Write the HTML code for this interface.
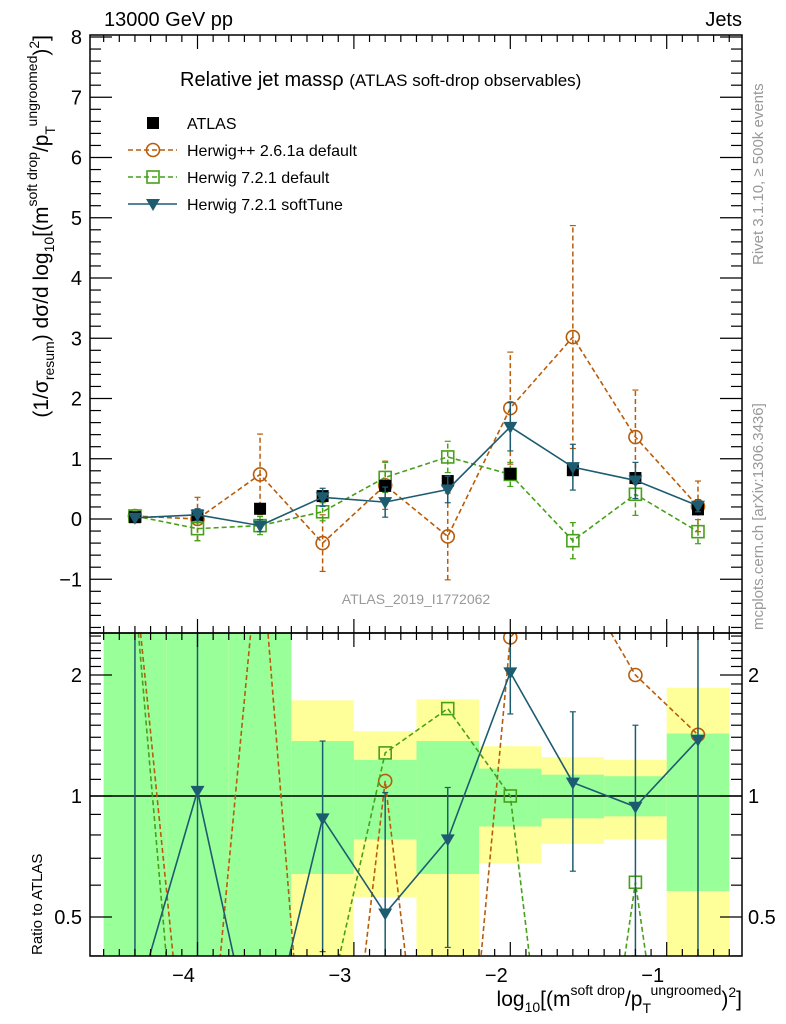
<!DOCTYPE html>
<html><head><meta charset="utf-8"><style>
html,body{margin:0;padding:0;background:#fff;overflow:hidden;width:786px;height:1024px;}
svg{display:block;font-family:"Liberation Sans",sans-serif;}
</style></head><body>
<svg id="s" width="786" height="1024" xmlns="http://www.w3.org/2000/svg">
<defs>
<clipPath id="cm"><rect x="90" y="35" width="652" height="598"/></clipPath>
<clipPath id="cr"><rect x="90" y="633" width="652" height="323"/></clipPath>
</defs>
<g id="bands" clip-path="url(#cr)"></g>
<g id="ratio" clip-path="url(#cr)"></g>
<g id="main" clip-path="url(#cm)"></g>
<g id="axes"></g>
<text x="104" y="26" font-size="20">13000 GeV pp</text>
<text x="742" y="26" font-size="20" text-anchor="end">Jets</text>
<text x="180" y="86" font-size="20">Relative jet massρ <tspan font-size="17">(ATLAS soft-drop observables)</tspan></text>
<text x="416" y="604" font-size="14" fill="#999" text-anchor="middle">ATLAS_2019_I1772062</text>
<text transform="translate(763,265) rotate(-90)" font-size="15" fill="#999">Rivet 3.1.10, ≥ 500k events</text>
<text transform="translate(763,630) rotate(-90)" font-size="15" fill="#999">mcplots.cern.ch [arXiv:1306.3436]</text>
<text transform="translate(48,35) rotate(-90)" font-size="21" text-anchor="end">(1/σ<tspan font-size="14" dy="6">resum</tspan><tspan dy="-6">) dσ/d log</tspan><tspan font-size="14" dy="6">10</tspan><tspan dy="-6">[(m</tspan><tspan font-size="14" dy="-11">soft drop</tspan><tspan dy="11">/p</tspan><tspan font-size="14" dy="7">T</tspan><tspan font-size="14" dy="-18">ungroomed</tspan><tspan dy="11">)</tspan><tspan font-size="14" dy="-9">2</tspan><tspan dy="9">]</tspan></text>
<text transform="translate(42,955) rotate(-90)" font-size="15" text-anchor="start">Ratio to ATLAS</text>
<text x="742" y="1006" font-size="21" text-anchor="end">log<tspan font-size="14" dy="6">10</tspan><tspan dy="-6">[(m</tspan><tspan font-size="14" dy="-11">soft drop</tspan><tspan dy="11">/p</tspan><tspan font-size="14" dy="7">T</tspan><tspan font-size="14" dy="-18">ungroomed</tspan><tspan dy="11">)</tspan><tspan font-size="14" dy="-9">2</tspan><tspan dy="9">]</tspan></text>
<g id="legend"></g>
</svg>
<script>
const xVals=[-4.4,-4.0,-3.6,-3.2,-2.8,-2.4,-2.0,-1.6,-1.2,-0.8];
const atlas=[0.03,0.06,0.17,0.38,0.55,0.63,0.75,0.81,0.68,0.16];
const atlasErr=[0.03,0.04,0.05,0.05,0.05,0.05,0.05,0.05,0.05,0.05];
const hpp=[0.05,0.0,0.74,-0.40,0.56,-0.29,1.84,3.02,1.36,0.21];
const hppErr=[0.05,0.36,0.67,0.47,0.40,0.72,0.93,1.85,0.78,0.42];
const h7=[0.05,-0.16,-0.11,0.12,0.69,1.03,0.74,-0.36,0.41,-0.21];
const h7Err=[0.04,0.2,0.15,0.15,0.25,0.26,0.2,0.3,0.35,0.2];
const soft=[0.02,0.07,-0.11,0.36,0.28,0.49,1.53,0.86,0.64,0.22];
const softErr=[0.03,0.1,0.1,0.15,0.25,0.22,0.4,0.38,0.3,0.1];
// ratio panel values
const rSoft=[0.3,1.03,0.2,0.88,0.51,0.78,2.03,1.08,0.94,1.38];
const rSoftLo=[0.1,0.1,0.2,0.41,0.1,0.42,1.6,0.65,0.4,0.1];
const rSoftHi=[9,9,0.2,1.37,1.02,1.05,2.6,1.62,1.5,9];
const rHpp=[3.5,0.1,4.5,0.05,1.09,0.05,2.48,3.7,2.0,1.42];
const rH7=[3.2,0.05,0.05,0.26,1.28,1.65,1.0,0.05,0.61,0.05];
const bandLo=[-4.6,-4.2,-3.8,-3.4,-3.0,-2.6,-2.2,-1.8,-1.4,-1.0];
const bandHi=[-4.2,-3.8,-3.4,-3.0,-2.6,-2.2,-1.8,-1.4,-1.0,-0.6];
const yelUp=[9,9,9,1.73,1.45,1.74,1.33,1.25,1.23,1.86];
const grnUp=[9,9,9,1.37,1.23,1.37,1.17,1.13,1.12,1.43];
const grnDn=[0.1,0.1,0.1,0.64,0.78,0.64,0.84,0.88,0.89,0.58];
const yelDn=[0.1,0.1,0.1,0.1,0.56,0.1,0.68,0.76,0.78,0.1];
const xTicks=[-4,-3,-2,-1];
const yTicks=[-1,0,1,2,3,4,5,6,7,8];
const rTicks=[0.5,1,2];

const NS="http://www.w3.org/2000/svg";
const X=v=>666.7+156.4*(v+1);
const Y=v=>519-60.25*v;
const R=v=>796-121*Math.log2(v);
function mk(tag,attrs,parent){const e=document.createElementNS(NS,tag);for(const k in attrs)e.setAttribute(k,attrs[k]);parent.appendChild(e);return e;}
const gM=document.getElementById('main'),gR=document.getElementById('ratio'),gB=document.getElementById('bands'),gA=document.getElementById('axes'),gL=document.getElementById('legend');

for(let i=0;i<bandLo.length;i++){
  const x1=X(bandLo[i]),x2=X(bandHi[i]);
  let r=mk('rect',{x:x1,y:R(yelUp[i]),width:x2-x1,height:R(yelDn[i])-R(yelUp[i]),fill:'#ffff99'},gB);
  
  
  r=mk('rect',{x:x1,y:R(grnUp[i]),width:x2-x1,height:R(grnDn[i])-R(grnUp[i]),fill:'#99ff99'},gB);
  
  
}
let one=mk('line',{x1:90,x2:742,y1:R(1),y2:R(1),stroke:'#000','stroke-width':1.5},gB);



function marker(type,x,y,col,g,name){
  let e;
  if(type==='sq') e=mk('rect',{x:x-6,y:y-6,width:12,height:12,fill:'#000'},g);
  else if(type==='osq') e=mk('rect',{x:x-6,y:y-6,width:12,height:12,fill:'none',stroke:col,'stroke-width':1.6},g);
  else if(type==='circ') e=mk('circle',{cx:x,cy:y,r:6.5,fill:'none',stroke:col,'stroke-width':1.6},g);
  else e=mk('path',{d:`M${x-7},${y-5}L${x+7},${y-5}L${x},${y+7}Z`,fill:col},g);
  
  
}
function series(vals,errs,col,dash,type,name,g,ys,lo,hi){
  const pts=xVals.map((x,i)=>X(x)+','+ys(vals[i])).join(' ');
  if(col!=='#000'){
    const l=mk('polyline',{points:pts,fill:'none',stroke:col,'stroke-width':1.6,'stroke-dasharray':dash},g);
    
    
  }
  xVals.forEach((x,i)=>{
    let a,b;
    if(lo){a=ys(lo[i]);b=ys(hi[i]);} else if(errs){a=ys(vals[i]-errs[i]);b=ys(vals[i]+errs[i]);}
    if(a!==undefined && a!==b){
      const e=mk('line',{x1:X(x),x2:X(x),y1:a,y2:b,stroke:col,'stroke-width':1.5,'stroke-dasharray':dash},g);
      
      
      mk('line',{x1:X(x)-3,x2:X(x)+3,y1:a,y2:a,stroke:col,'stroke-width':1.2},g);
      mk('line',{x1:X(x)-3,x2:X(x)+3,y1:b,y2:b,stroke:col,'stroke-width':1.2},g);
    }
    marker(type,X(x),ys(vals[i]),col,g,name+'-point');
  });
}
const cO='#b85c0a',cG='#47a01a',cT='#1d5c70';
series(hpp,hppErr,cO,'5,3','circ','herwigpp',gM,Y);
series(h7,h7Err,cG,'5,3','osq','herwig7-default',gM,Y);
series(atlas,atlasErr,'#000','','sq','atlas',gM,Y);
series(soft,softErr,cT,'','tri','herwig7-softtune',gM,Y);
series(rHpp,null,cO,'5,3','circ','ratio-herwigpp',gR,R);
series(rH7,null,cG,'5,3','osq','ratio-herwig7-default',gR,R);
series(rSoft,null,cT,'','tri','ratio-softtune',gR,R,rSoftLo,rSoftHi);

for(const [y1,y2] of [[35,633],[633,956]]){
  const f=mk('rect',{x:90,y:y1,width:652,height:y2-y1,fill:'none',stroke:'#000','stroke-width':1.5},gA);
  
  
}
for(let v=-4.6;v<=-0.5;v+=0.1){
  const vv=Math.round(v*10)/10, maj=Math.abs(vv-Math.round(vv))<1e-6, L=maj?14:7;
  for(const [yb,d] of [[633,-1],[35,1],[956,-1],[633,1]]) mk('line',{x1:X(vv),x2:X(vv),y1:yb,y2:yb+d*L,stroke:'#000','stroke-width':1.2},gA);
}
xTicks.forEach(v=>{const t=mk('text',{x:X(v)-14,y:982,'font-size':20,'text-anchor':'middle'},gA);t.textContent='−'+Math.abs(v);
  
  });
for(let v=-1.8;v<=8.001;v+=0.2){const vv=Math.round(v*10)/10,maj=Math.abs(vv-Math.round(vv))<1e-6,L=maj?22:11;
  mk('line',{x1:90,x2:90+L,y1:Y(vv),y2:Y(vv),stroke:'#000','stroke-width':1.2},gA);
  mk('line',{x1:742,x2:742-L,y1:Y(vv),y2:Y(vv),stroke:'#000','stroke-width':1.2},gA);}
yTicks.forEach(v=>{const t=mk('text',{x:82,y:Y(v)+7,'font-size':20,'text-anchor':'end'},gA);t.textContent=v<0?'−'+(-v):String(v);
  
  });
const rMinor=[0.4,0.6,0.7,0.8,0.9,1.1,1.2,1.3,1.4,1.5,1.6,1.7,1.8,1.9,2.1,2.2,2.3,2.4,2.5];
rMinor.forEach(v=>{mk('line',{x1:90,x2:101,y1:R(v),y2:R(v),stroke:'#000','stroke-width':1.2},gA);mk('line',{x1:742,x2:731,y1:R(v),y2:R(v),stroke:'#000','stroke-width':1.2},gA);});
rTicks.forEach(v=>{mk('line',{x1:90,x2:112,y1:R(v),y2:R(v),stroke:'#000','stroke-width':1.2},gA);mk('line',{x1:742,x2:720,y1:R(v),y2:R(v),stroke:'#000','stroke-width':1.2},gA);
  for(const [x,a] of [[82,'end'],[748,'start']]){const t=mk('text',{x:x,y:R(v)+7,'font-size':20,'text-anchor':a},gA);t.textContent=String(v);
  
  }});

const legNames=['ATLAS','Herwig++ 2.6.1a default','Herwig 7.2.1 default','Herwig 7.2.1 softTune'];
const legCols=['#000',cO,cG,cT],legType=['sq','circ','osq','tri'],legDash=['','5,3','5,3',''];
legNames.forEach((n,i)=>{const y=123+27*i;
  const g=mk('g',{},gL);
  
  
  if(i>0) mk('line',{x1:128,x2:177,y1:y,y2:y,stroke:legCols[i],'stroke-width':1.5,'stroke-dasharray':legDash[i]},g);
  marker(legType[i],153,y,legCols[i],g,'legend-marker');
  const t=mk('text',{x:187,y:y+6,'font-size':16},g);t.textContent=n;});
</script>
</body></html>
